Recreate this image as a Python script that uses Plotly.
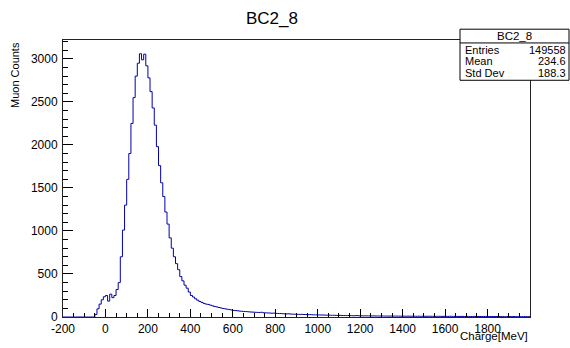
import plotly.graph_objects as go

# Histogram: bin left edges (width 10 MeV) and counts
bin_width = 10
x_start = -200
counts = [
    # -200 .. -60
    0, 0, 0, 0, 0, 0, 0, 0, 0, 0, 0, 0, 0, 0, 0,
    # -50 .. 40
    30, 95, 150, 200, 235, 250, 185, 265, 225, 250,
    # 50 .. 140
    320, 400, 700, 1010, 1300, 1600, 1900, 2250, 2550, 2800,
    # 150 .. 240
    2950, 3060, 2990, 3055, 2920, 2780, 2620, 2430, 2230, 1980,
    # 250 .. 340
    1760, 1560, 1400, 1220, 1080, 920, 800, 700, 620, 550,
    # 350 .. 440
    470, 420, 370, 335, 290, 250, 232, 212, 195, 180,
    # 450 .. 540
    170, 158, 150, 146, 138, 130, 122, 117, 111, 105,
    # 550 .. 640
    99, 95, 90, 86, 81, 77, 74, 72, 68, 66,
    # 650 .. 740
    64, 63, 60, 58, 57, 55, 54, 52, 55, 50,
    # 750 .. 840
    48, 47, 46, 44, 45, 42, 40, 41, 38, 37,
    # 850 .. 940
    36, 37, 34, 33, 32, 31, 30, 31, 29, 28,
    # 950 .. 1040
    27, 28, 26, 25, 25, 24, 23, 24, 22, 21,
    # 1050 .. 1140
    21, 20, 20, 19, 18, 19, 17, 17, 16, 17,
    # 1150 .. 1240
    16, 15, 15, 16, 14, 14, 13, 14, 13, 13,
    # 1250 .. 1340
    12, 13, 12, 12, 11, 12, 11, 11, 10, 11,
    # 1350 .. 1440
    10, 11, 10, 10, 9, 10, 9, 10, 9, 9,
    # 1450 .. 1540
    9, 8, 9, 8, 9, 8, 8, 9, 8, 8,
    # 1550 .. 1640
    7, 8, 8, 7, 8, 7, 7, 8, 7, 7,
    # 1650 .. 1740
    7, 6, 7, 7, 6, 7, 6, 6, 7, 6,
    # 1750 .. 1840
    6, 6, 5, 6, 6, 5, 6, 5, 5, 6,
    # 1850 .. 1940
    5, 5, 5, 4, 5, 5, 4, 5, 4, 4,
    # 1950 .. 1990
    4, 4, 5, 4, 4,
]
edges = [x_start + i * bin_width for i in range(len(counts) + 1)]

title_text = "BC2_8"
stats_labels = ["Entries", "Mean", "Std Dev"]
stats_values = ["149558", "234.6", "188.3"]
x_ticks = [-200, 0, 200, 400, 600, 800, 1000, 1200, 1400, 1600, 1800]
y_ticks = [0, 500, 1000, 1500, 2000, 2500, 3000]

line_color = "#0000a8"
font_family = "Liberation Sans, Arial, sans-serif"

fig = go.Figure()
fig.add_trace(go.Scatter(
    x=edges,
    y=counts + [counts[-1]],
    mode="lines",
    line=dict(color=line_color, width=1, shape="hv"),
    hoverinfo="skip",
    showlegend=False,
))

W, H = 570, 348
L, R, T, B = 63, 40, 40, 26

fig.update_layout(
    width=W, height=H,
    margin=dict(l=L, r=R, t=T, b=B, pad=0),
    paper_bgcolor="white",
    plot_bgcolor="white",
    font=dict(family=font_family, size=12, color="black"),
    showlegend=False,
)

fig.update_xaxes(
    range=[-200, 2000],
    tickmode="array", tickvals=x_ticks, ticktext=[str(v) for v in x_ticks],
    ticks="inside", ticklen=8, tickwidth=1, tickcolor="black",
    minor=dict(ticks="inside", ticklen=4, dtick=50, tick0=0, tickcolor="black", tickwidth=1),
    showgrid=False, zeroline=False,
    showline=True, linecolor="#222", linewidth=1, mirror=True,
    tickfont=dict(size=12, family=font_family),
    ticklabelstandoff=1,
)
fig.update_yaxes(
    range=[0, 3220],
    tickmode="array", tickvals=y_ticks, ticktext=[str(v) for v in y_ticks],
    ticks="inside", ticklen=10, tickwidth=1, tickcolor="black",
    minor=dict(ticks="inside", ticklen=5, dtick=100, tick0=0, tickcolor="black", tickwidth=1),
    showgrid=False, zeroline=False,
    showline=True, linecolor="#222", linewidth=1, mirror=True,
    tickfont=dict(size=12, family=font_family),
    ticklabelstandoff=2,
)

pw = W - L - R
ph = H - T - B
def px_x(p):
    return (p - L) / pw
def px_y(p):
    return (H - B - p) / ph

annotations = []
# Title
annotations.append(dict(
    text=title_text, x=px_x(272), y=px_y(18), xref="paper", yref="paper",
    xanchor="center", yanchor="middle", showarrow=False,
    font=dict(size=17, family=font_family, color="black"),
))
# Axis titles
annotations.append(dict(
    text="Charge[MeV]", x=px_x(530), y=px_y(341.5), xref="paper", yref="paper",
    xanchor="right", yanchor="middle", showarrow=False,
    font=dict(size=11.5, family=font_family, color="black"),
))
annotations.append(dict(
    text="Muon Counts", x=px_x(15), y=px_y(40), xref="paper", yref="paper",
    xanchor="center", yanchor="top", textangle=-90, showarrow=False,
    font=dict(size=11, family=font_family, color="black"),
))

# Stats box
bx0, bx1, by0, by1 = 460, 569, 29, 81
shapes = [
    dict(type="rect", xref="paper", yref="paper",
         x0=px_x(bx0), x1=px_x(bx1), y0=px_y(by1), y1=px_y(by0),
         line=dict(color="black", width=1), fillcolor="white", layer="above"),
    dict(type="line", xref="paper", yref="paper",
         x0=px_x(bx0), x1=px_x(bx1), y0=px_y(43), y1=px_y(43),
         line=dict(color="black", width=1), layer="above"),
]
annotations.append(dict(
    text=title_text, x=px_x((bx0 + bx1) / 2), y=px_y(36), xref="paper", yref="paper",
    xanchor="center", yanchor="middle", showarrow=False,
    font=dict(size=11.5, family=font_family, color="black"),
))
row_y = [50, 61.7, 73.3]
for lab, val, yy in zip(stats_labels, stats_values, row_y):
    annotations.append(dict(
        text=lab, x=px_x(463), y=px_y(yy), xref="paper", yref="paper",
        xanchor="left", yanchor="middle", showarrow=False,
        font=dict(size=11, family=font_family, color="black"),
    ))
    annotations.append(dict(
        text=val, x=px_x(568), y=px_y(yy), xref="paper", yref="paper",
        xanchor="right", yanchor="middle", showarrow=False,
        font=dict(size=11, family=font_family, color="black"),
    ))

fig.update_layout(annotations=annotations, shapes=shapes)
fig.write_html("out.html")
